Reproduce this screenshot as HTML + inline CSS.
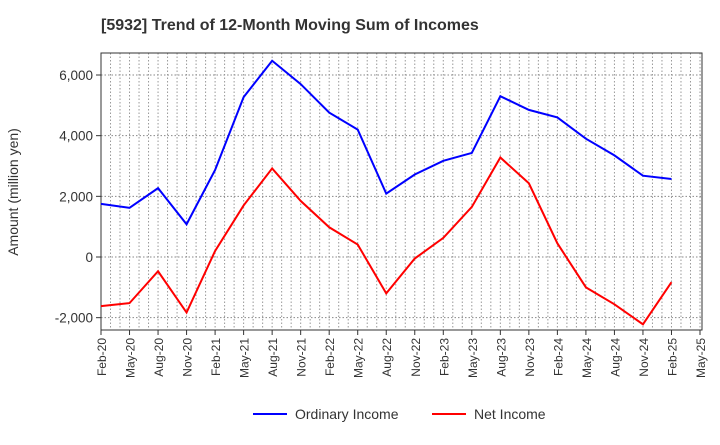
<!DOCTYPE html>
<html><head><meta charset="utf-8"><style>
body{margin:0;background:#fff;font-family:"Liberation Sans",sans-serif;}
</style></head><body>
<svg id="c" width="720" height="440" xmlns="http://www.w3.org/2000/svg"></svg>
<script>
const categories=["Feb-20","May-20","Aug-20","Nov-20","Feb-21","May-21","Aug-21","Nov-21","Feb-22","May-22","Aug-22","Nov-22","Feb-23","May-23","Aug-23","Nov-23","Feb-24","May-24","Aug-24","Nov-24","Feb-25","May-25"];
const ordinaryIncome=[1750,1620,2270,1080,2870,5270,6470,5700,4760,4200,2090,2720,3170,3430,5300,4850,4600,3900,3350,2680,2570];
const netIncome=[-1620,-1520,-470,-1830,200,1700,2920,1850,980,410,-1200,-50,630,1650,3280,2430,450,-1000,-1560,-2220,-830];
const yTicks=[-2000,0,2000,4000,6000];
const yTickLabels=["-2,000","0","2,000","4,000","6,000"];
const NS="http://www.w3.org/2000/svg";
const svg=document.getElementById('c');
const L=101,R=702,T=53,B=330;
const x=i=>L+(R-L-2)*i/21;
const y=v=>257-v*(182/6000);
function mk(t,a,p){const e=document.createElementNS(NS,t);for(const k in a)e.setAttribute(k,a[k]);(p||svg).appendChild(e);return e;}
let e;
for(let m=1;m<=63;m++){e=mk('line',{x1:x(m/3),x2:x(m/3),y1:T,y2:B,stroke:'#999','stroke-dasharray':'1.5,2','stroke-width':1});
}
yTicks.forEach((v,i)=>{
 e=mk('line',{x1:L,x2:R,y1:y(v),y2:y(v),stroke:'#888','stroke-dasharray':'1.5,2','stroke-width':1});
 
 e=mk('line',{x1:L-5,x2:L,y1:y(v),y2:y(v),stroke:'#333'});
 e=mk('text',{x:L-8,y:y(v)+5,'text-anchor':'end','font-size':13.5,fill:'#333'});e.textContent=yTickLabels[i];
 
});
e=mk('rect',{x:L,y:T,width:R-L,height:B-T,fill:'none',stroke:'#333'});

categories.forEach((c,i)=>{
 mk('line',{x1:x(i),x2:x(i),y1:B,y2:B+5,stroke:'#333'});
 e=mk('text',{transform:`translate(${x(i)+5},${B+8}) rotate(-90)`,'text-anchor':'end','font-size':12,fill:'#333'});e.textContent=c;
 
});
function line(d,col,name){e=mk('polyline',{points:d.map((v,i)=>x(i)+','+y(v)).join(' '),fill:'none',stroke:col,'stroke-width':2});
 }
line(ordinaryIncome,'#0000ff','ordinary-income-line');
line(netIncome,'#ff0000','net-income-line');
e=mk('text',{x:101,y:30,'font-size':16,'font-weight':'bold',fill:'#333'});e.textContent='[5932]  Trend of 12-Month Moving Sum of Incomes';

e=mk('text',{transform:'translate(18,192) rotate(-90)','text-anchor':'middle','font-size':14,fill:'#333'});e.textContent='Amount (million yen)';

const g1=mk('g',{});
mk('line',{x1:253,x2:287,y1:414,y2:414,stroke:'#0000ff','stroke-width':2},g1);
e=mk('text',{x:295,y:419,'font-size':14,fill:'#333'},g1);e.textContent='Ordinary Income';
const g2=mk('g',{});
mk('line',{x1:432,x2:466,y1:414,y2:414,stroke:'#ff0000','stroke-width':2},g2);
e=mk('text',{x:474,y:419,'font-size':14,fill:'#333'},g2);e.textContent='Net Income';
</script>
</body></html>
